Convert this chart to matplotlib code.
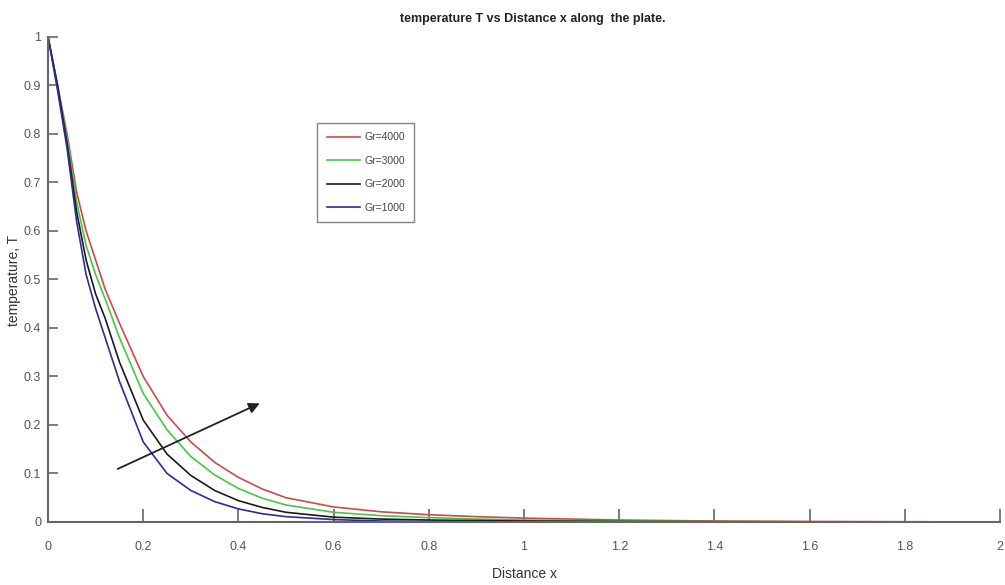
import matplotlib
matplotlib.use("Agg")
import matplotlib.pyplot as plt

# ---- data ----
x = [0, 0.02, 0.04, 0.06, 0.08, 0.10, 0.12, 0.15, 0.20, 0.25, 0.30, 0.35, 0.40,
     0.45, 0.50, 0.60, 0.70, 0.80, 0.90, 1.00, 1.20, 1.40, 1.60, 1.80, 2.00]
T_gr4000 = [1, 0.90, 0.80, 0.68, 0.60, 0.54, 0.48, 0.41, 0.30, 0.22, 0.165, 0.123, 0.092,
            0.068, 0.050, 0.031, 0.021, 0.015, 0.011, 0.008, 0.004, 0.002, 0.001, 0.0005, 0.0]
T_gr3000 = [1, 0.90, 0.79, 0.66, 0.57, 0.51, 0.46, 0.38, 0.265, 0.19, 0.135, 0.097, 0.069,
            0.049, 0.035, 0.020, 0.013, 0.009, 0.006, 0.004, 0.002, 0.001, 0.0005, 0.0002, 0.0]
T_gr2000 = [1, 0.90, 0.78, 0.64, 0.54, 0.47, 0.42, 0.33, 0.21, 0.14, 0.096, 0.065, 0.044,
            0.030, 0.020, 0.010, 0.006, 0.004, 0.003, 0.002, 0.001, 0.0005, 0.0002, 0.0001, 0.0]
T_gr1000 = [1, 0.89, 0.77, 0.62, 0.51, 0.44, 0.38, 0.29, 0.165, 0.10, 0.065, 0.042, 0.027,
            0.017, 0.011, 0.005, 0.002, 0.001, 0.0005, 0.0003, 0.0001, 0.0, 0.0, 0.0, 0.0]
series_labels = ["Gr=4000", "Gr=3000", "Gr=2000", "Gr=1000"]
series_colors = ["#d04848", "#44c844", "#1a1a1a", "#2c2c9c"]

xticks = [0, 0.2, 0.4, 0.6, 0.8, 1, 1.2, 1.4, 1.6, 1.8, 2]
xticklabels = ["0", "0.2", "0.4", "0.6", "0.8", "1", "1.2", "1.4", "1.6", "1.8", "2"]
yticks = [0, 0.1, 0.2, 0.3, 0.4, 0.5, 0.6, 0.7, 0.8, 0.9, 1]
yticklabels = ["0", "0.1", "0.2", "0.3", "0.4", "0.5", "0.6", "0.7", "0.8", "0.9", "1"]

arrow_start = (0.141, 0.107)
arrow_end = (0.45, 0.247)

narrow = ["Liberation Sans Narrow", "Liberation Sans", "DejaVu Sans"]
plain = ["Liberation Sans", "DejaVu Sans"]

fig = plt.figure(figsize=(10.05, 5.85), dpi=100)
ax = fig.add_axes([0.0478, 0.1077, 0.9473, 0.8291])

for ys, lab, c in zip([T_gr4000, T_gr3000, T_gr2000, T_gr1000], series_labels, series_colors):
    ax.plot(x, ys, color=c, lw=1.2, label=lab)

ax.set_xlim(0, 2)
ax.set_ylim(0, 1)
ax.set_xticks(xticks)
ax.set_xticklabels(xticklabels, family=narrow, fontsize=9, color="#555555")
ax.set_yticks(yticks)
ax.set_yticklabels(yticklabels, family=narrow, fontsize=9, color="#555555")
ax.tick_params(axis="x", direction="in", length=9.5, width=1.2, color="#666666", pad=14)
ax.tick_params(axis="y", direction="in", length=7, width=1.2, color="#666666", pad=5)

for s in ["top", "right"]:
    ax.spines[s].set_visible(False)
for s in ["left", "bottom"]:
    ax.spines[s].set_color("#666666")
    ax.spines[s].set_linewidth(1.5)

ax.annotate("", xy=arrow_end, xytext=arrow_start,
            arrowprops=dict(arrowstyle="-|>", color="#222222", lw=1.3,
                            mutation_scale=16))

leg = ax.legend(loc="upper left", bbox_to_anchor=(0.283, 0.823), frameon=True,
                fancybox=False, edgecolor="#666666",
                prop={"family": narrow, "size": 7.5},
                handlelength=3.2, labelspacing=1.3, borderpad=0.9, handletextpad=0.4,
                borderaxespad=0.0)
leg.get_frame().set_linewidth(1.0)
for t in leg.get_texts():
    t.set_color("#444444")

fig.text(0.53, 0.968, "temperature T vs Distance x along  the plate.", ha="center", va="center",
         family=narrow, fontsize=9, fontweight="bold", color="#222222")
fig.text(0.522, 0.018, "Distance x", ha="center", va="center", family=narrow,
         fontsize=10, color="#333333")
fig.text(0.014, 0.52, "temperature, T", ha="center", va="center", rotation=90,
         family=plain, fontsize=10, color="#333333")

fig.savefig("out.png", dpi=100)
